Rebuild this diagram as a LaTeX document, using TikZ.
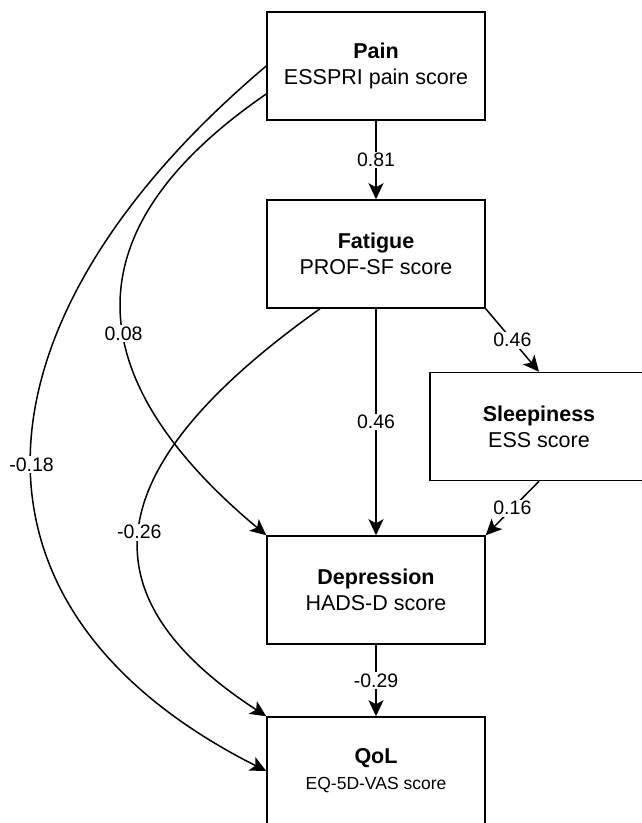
\documentclass[tikz,border=0pt]{standalone}
\usepackage{fontspec}
\setmainfont{Liberation Sans}
\usetikzlibrary{arrows.meta}

\tikzset{
  factor/.style={draw, line width=1.5pt, minimum width=218pt, minimum height=108pt,
    align=center, inner sep=0pt, font=\fontsize{21.5}{26}\selectfont},
  coef/.style={fill=white, inner sep=1.5pt, font=\fontsize{19.5}{22}\selectfont},
  link/.style={line width=1.5pt, -{Stealth[length=16pt,width=15pt,inset=4pt]}}
}

\begin{document}
\begin{tikzpicture}[x=1pt, y=-1pt]
      \useasboundingbox (0,0) rectangle (641,823);

      \node[factor] (pain) at (376,66) {\textbf{Pain}\\ESSPRI pain score};
      \node[factor] (fatigue) at (376,254) {\textbf{Fatigue}\\PROF-SF score};
      \node[factor] (sleep) at (539,426.5) {\textbf{Sleepiness}\\ESS score};
      \node[factor] (depression) at (376,590) {\textbf{Depression}\\HADS-D score};
      \node[factor] (qol) at (376,771) {\textbf{QoL}\\{\fontsize{17.5}{20}\selectfont EQ-5D-VAS score}};

      \draw[link] (pain) -- node[coef] {0.81} (fatigue);
      \draw[link] (fatigue) -- node[coef] {0.46} (depression);
      \draw[link] (fatigue.south east) -- node[coef] {0.46} (sleep.north);
      \draw[link] (sleep.south) -- node[coef] {0.16} (depression.north east);
      \draw[link] (depression) -- node[coef] {-0.29} (qol);

      \draw[link] (pain.west) .. controls (-30,316) and (-63,605) ..
        node[coef, pos=0.52] {-0.18} (qol.west);
      \draw[link] ([yshift=-28pt]pain.west) .. controls (45,246) and (102,398) ..
        node[coef, pos=0.53] {0.08} (depression.north west);
      \draw[link] ([xshift=-56pt]fatigue.south) .. controls (111.5,457) and (69,588) ..
        node[coef, pos=0.53] {-0.26} (qol.north west);

\end{tikzpicture}
\end{document}
